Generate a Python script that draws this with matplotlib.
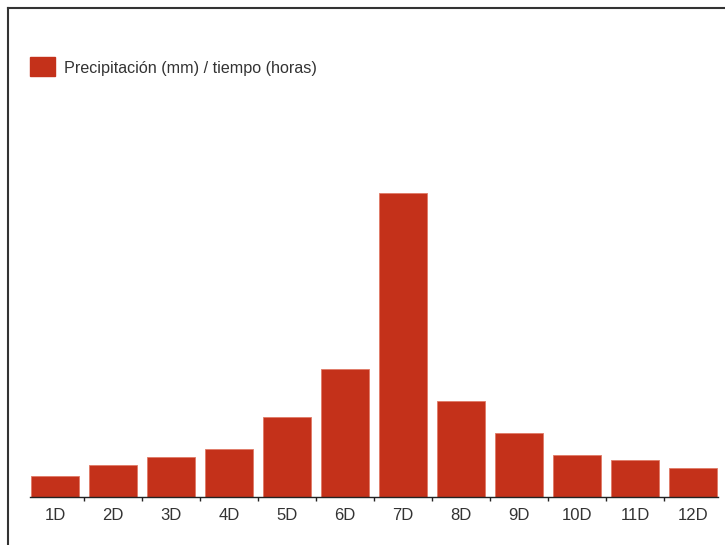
import matplotlib.pyplot as plt
from matplotlib.patches import Rectangle
from matplotlib.lines import Line2D

plt.rcParams['font.family'] = ['Liberation Sans Narrow', 'Liberation Sans', 'DejaVu Sans']

labels = ['1D', '2D', '3D', '4D', '5D', '6D', '7D', '8D', '9D', '10D', '11D', '12D']
precip = [1.3, 2.0, 2.5, 3.0, 5.0, 8.0, 19.0, 6.0, 4.0, 2.6, 2.3, 1.8]
series_name = 'Precipitación (mm) / tiempo (horas)'
red = '#c4311a'
W, H = 725, 545

fig = plt.figure(figsize=(7.25, 5.45), dpi=100)
ax = fig.add_axes([30 / W, (H - 497) / H, (718 - 30) / W, (497 - 100) / H])

x = list(range(len(labels)))
ax.bar(x, precip, width=0.83, color=red, edgecolor='#e07a66', linewidth=0.6)
ax.set_xlim(-0.43, len(labels) - 0.57)
ax.set_ylim(0, 397 / 16)

ax.set_xticks(x)
ax.set_xticklabels(labels, fontsize=12, color='#333333')
ax.tick_params(axis='x', length=0, pad=8)
ax.set_xticks([i + 0.5 for i in x[:-1]], minor=True)
ax.tick_params(axis='x', which='minor', length=3, width=1, color='#222222', direction='out')
ax.set_yticks([])
for s in ['top', 'right', 'left']:
    ax.spines[s].set_visible(False)
ax.spines['bottom'].set_color('#222222')
ax.spines['bottom'].set_linewidth(1)

# frame around the chart
fig.add_artist(Line2D([7.5 / W, 7.5 / W], [0, (H - 8) / H], color='#333333', lw=1.5))
fig.add_artist(Line2D([7.5 / W, 1], [(H - 8) / H, (H - 8) / H], color='#333333', lw=1.5))

# legend
fig.add_artist(Rectangle((30 / W, (H - 76) / H), 25 / W, 19 / H, color=red))
fig.text(64 / W, (H - 68) / H, series_name, fontsize=11.6, color='#333333', va='center', ha='left')

fig.savefig('out.png', dpi=100)
